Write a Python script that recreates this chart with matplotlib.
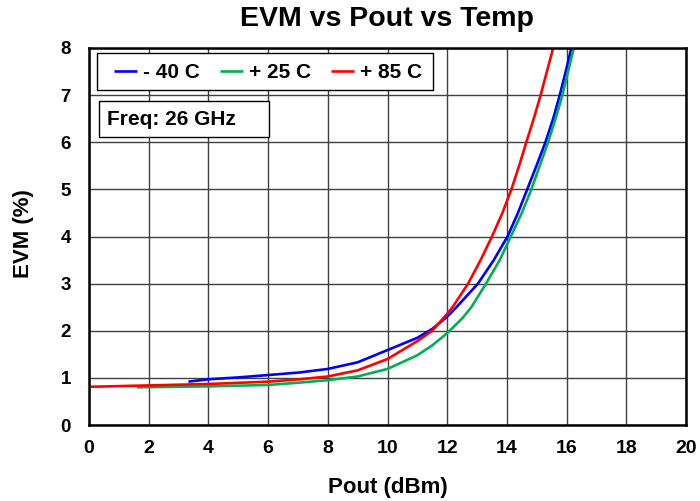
import matplotlib
matplotlib.use("Agg")
import matplotlib.pyplot as plt
from matplotlib.patches import Rectangle
import numpy as np

plt.rcParams["font.family"] = ["Liberation Sans", "DejaVu Sans"]
plt.rcParams["font.weight"] = "bold"

# EVM (%) vs Pout (dBm)
pout_m40 = [3.33, 4.0, 5.0, 6.0, 7.06, 8.0, 9.0, 10.0, 11.0, 11.5, 12.0, 12.31, 13.03,
            13.56, 14.02, 14.37, 14.68, 14.99, 15.29, 15.55, 15.77, 15.97, 16.16]
evm_m40 = [0.92, 0.97, 1.01, 1.06, 1.115, 1.19, 1.33, 1.59, 1.85, 2.04, 2.30, 2.5, 3.0,
           3.5, 4.0, 4.5, 5.0, 5.5, 6.0, 6.5, 7.0, 7.5, 8.0]

pout_25 = [1.6, 4.0, 6.0, 7.06, 8.0, 9.0, 10.0, 11.0, 11.5, 12.0, 12.5, 12.81, 13.3,
           13.76, 14.13, 14.5, 14.82, 15.1, 15.38, 15.63, 15.86, 16.05, 16.24]
evm_25 = [0.80, 0.82, 0.85, 0.90, 0.95, 1.03, 1.19, 1.48, 1.69, 1.95, 2.26, 2.5, 3.0,
          3.5, 4.0, 4.5, 5.0, 5.5, 6.0, 6.5, 7.0, 7.5, 8.0]

pout_85 = [0.0, 2.0, 4.0, 6.0, 7.06, 8.0, 9.0, 10.0, 11.0, 11.5, 12.0, 12.2, 12.7,
           13.12, 13.5, 13.85, 14.15, 14.41, 14.65, 14.9, 15.13, 15.34, 15.55]
evm_85 = [0.81, 0.84, 0.87, 0.92, 0.97, 1.03, 1.16, 1.40, 1.78, 2.0, 2.36, 2.52, 3.0,
          3.5, 4.0, 4.5, 5.0, 5.5, 6.0, 6.5, 7.0, 7.5, 8.0]

W, H = 700, 501
fig = plt.figure(figsize=(W / 100, H / 100), dpi=100)
ax = fig.add_axes([89 / W, 1 - 425 / H, 597 / W, 377 / H])

style = dict(lw=1.9, solid_joinstyle="round", solid_capstyle="butt")
ax.plot(pout_m40, evm_m40, color="#0000ff", label="- 40 C", **style)
ax.plot(pout_25, evm_25, color="#00b050", label="+ 25 C", **style)
ax.plot(pout_85, evm_85, color="#ff0000", label="+ 85 C", **style)

ax.set_xlim(0, 20)
ax.set_ylim(0, 8)
ax.set_xticks(np.arange(0, 21, 2))
ax.set_yticks(np.arange(0, 9, 1))
ax.grid(True, color="#404040", lw=1)
ax.tick_params(length=0)
ax.tick_params(axis="x", pad=11, labelsize=14)
ax.tick_params(axis="y", pad=13, labelsize=13.5)
for spine in ax.spines.values():
    spine.set_linewidth(1.8)
    spine.set_color("black")

fig.text(387 / W, 1 - 25.5 / H, "EVM vs Pout vs Temp", fontsize=20.5,
         fontweight="bold", ha="center", va="baseline")
ax.set_xlabel("Pout (dBm)", fontsize=16, fontweight="bold")
ax.set_ylabel("EVM (%)", fontsize=16, fontweight="bold")
ax.xaxis.set_label_coords(0.5, (425 - 487) / 377)
ax.xaxis.label.set_va("center")
ax.yaxis.set_label_coords((23 - 89) / 597, (425 - 234) / 377)
ax.yaxis.label.set_va("center")

# legend box drawn separately so the inner padding can match
ax.add_patch(Rectangle((97 / W, 1 - 90 / H), 336 / W, 37 / H, transform=fig.transFigure,
                       fc="white", ec="black", lw=1, zorder=5, clip_on=False))
leg = ax.legend(loc="center left", ncol=3, bbox_to_anchor=(114 / W, 1 - 72.5 / H),
                bbox_transform=fig.transFigure, borderaxespad=0, borderpad=0,
                fontsize=15, frameon=False, handlelength=1.1,
                handletextpad=0.3, columnspacing=0.95)
leg.set_zorder(6)

ax.add_patch(Rectangle((99 / W, 1 - 137 / H), 170 / W, 36 / H, transform=fig.transFigure,
                       fc="white", ec="black", lw=1, zorder=5, clip_on=False))
fig.text(107 / W, 1 - 119 / H, "Freq: 26 GHz", fontsize=15, fontweight="bold",
         ha="left", va="center", zorder=6)

fig.savefig("out.png", dpi=100)
